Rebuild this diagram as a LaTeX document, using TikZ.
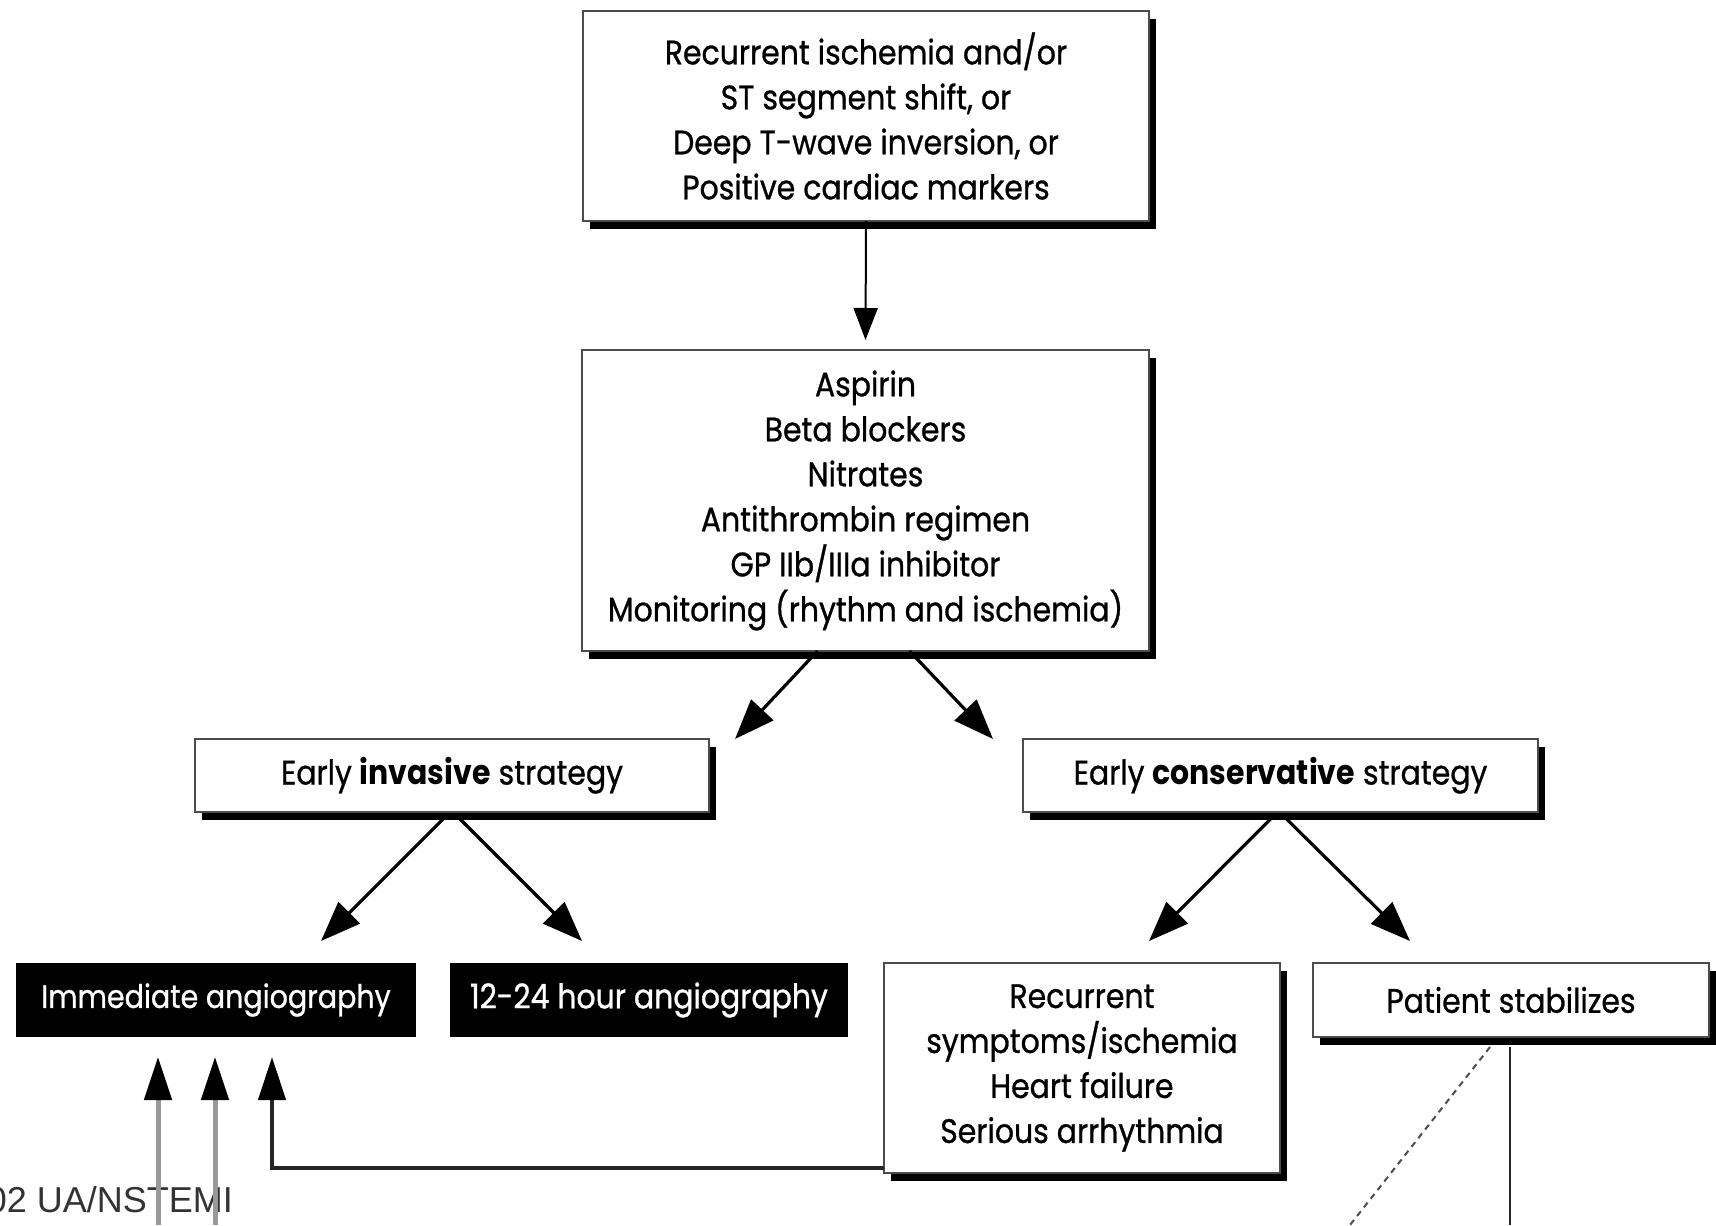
\documentclass[tikz,border=0pt]{standalone}
\usepackage{fontspec}
\setmainfont{Poppins}[FakeStretch=0.88, UprightFeatures={FakeBold=0.8}]
\newfontfamily\labelfont{Liberation Sans}
\usetikzlibrary{arrows.meta,shadows}
\begin{document}
\begin{tikzpicture}[x=0.5pt,y=-0.5pt,
  every node/.style={inner sep=0pt, outer sep=0pt},
  txt/.style={font=\fontsize{17}{22.5}\selectfont, align=center},
  card/.style={txt, rectangle, draw=black!70, line width=1pt, fill=white,
    drop shadow={shadow xshift=3.5pt, shadow yshift=-4pt, fill=black, opacity=1}},
  darkcard/.style={txt, rectangle, fill=black, text=white},
  arr/.style={line width=1.6pt, -{Triangle[length=20pt,width=15pt]}},
  thinarr/.style={line width=1pt, -{Triangle[length=16pt,width=12pt]}},
  greyarr/.style={draw=black!40, line width=2.5pt, -{Triangle[length=21.5pt,width=13.5pt,color=black]}}
]
\useasboundingbox (0,0) rectangle (1716,1225);

% source label in the corner, drawn first so the lines pass over it
\node[anchor=base east, font=\labelfont\fontsize{18}{20}\selectfont, text=black!80] (src) at (233,1212) {02 UA/NSTEMI};

% boxes
\node[card, minimum width=283pt, minimum height=105pt] (top) at (866,116)
  {Recurrent ischemia and/or\\ST segment shift, or\\Deep T-wave inversion, or\\Positive cardiac markers};
\node[card, minimum width=283.5pt, minimum height=150.5pt] (mid) at (865.5,500.5)
  {Aspirin\\Beta blockers\\Nitrates\\Antithrombin regimen\\GP IIb/IIIa inhibitor\\Monitoring (rhythm and ischemia)};
\node[card, minimum width=257pt, minimum height=36.5pt] (inv) at (452,775.5)
  {Early \textbf{invasive} strategy};
\node[card, minimum width=257.5pt, minimum height=36.5pt] (cons) at (1280.5,775.5)
  {Early \textbf{conservative} strategy};
\node[darkcard, font=\fontsize{16.2}{22.5}\selectfont, minimum width=200pt, minimum height=37pt] (imm) at (216,1000)
  {Immediate angiography};
\node[darkcard, minimum width=199pt, minimum height=37pt] (late) at (649,1000)
  {12-24 hour angiography};
\node[card, minimum width=198pt, minimum height=105pt] (rec) at (1082,1068)
  {Recurrent\\symptoms/ischemia\\Heart failure\\Serious arrhythmia};
\node[card, minimum width=198pt, minimum height=37pt] (pat) at (1511,1000)
  {Patient stabilizes};

% main flow
\draw[thinarr] (top.south) -- ([yshift=5pt]mid.north);
\draw[arr] ([xshift=-24pt]mid.south) -- ([xshift=13pt]inv.north east);
\draw[arr] ([xshift=22pt]mid.south) -- ([xshift=-15pt]cons.north west);
\draw[arr] ([xshift=-4.5pt,yshift=-3.5pt]inv.south) -- ([xshift=52.5pt,yshift=11pt]imm.north);
\draw[arr] ([xshift=4pt,yshift=-3.5pt]inv.south) -- ([xshift=-33.5pt,yshift=11pt]late.north);
\draw[arr] ([xshift=-5pt,yshift=-3.5pt]cons.south) -- ([xshift=33.5pt,yshift=11pt]rec.north);
\draw[arr] ([xshift=3pt,yshift=-3.5pt]cons.south) -- ([xshift=-50.5pt,yshift=11pt]pat.north);

% feedback into immediate angiography
\coordinate (g1) at (158,1225);
\coordinate (g2) at (215,1225);
\draw[greyarr] (g1) -- ([xshift=-29pt,yshift=-10pt]imm.south);
\draw[greyarr] (g2) -- ([xshift=-0.5pt,yshift=-10pt]imm.south);
\draw[line width=2.2pt, draw=black!85, -{Triangle[length=21.5pt,width=13.5pt,color=black]}]
  ([yshift=2.5pt]rec.south west) -| ([xshift=28pt,yshift=-10pt]imm.south);

% lines leaving the stabilized branch
\coordinate (d1) at (1350,1225);
\coordinate (v1) at (1510,1225);
\draw[draw=black!70, line width=1pt, dash pattern=on 3pt off 2.5pt] ([xshift=-10.5pt,yshift=-5pt]pat.south) -- (d1);
\draw[draw=black!85, line width=1pt] ([xshift=-0.5pt,yshift=-5pt]pat.south) -- (v1);
\end{tikzpicture}
\end{document}
